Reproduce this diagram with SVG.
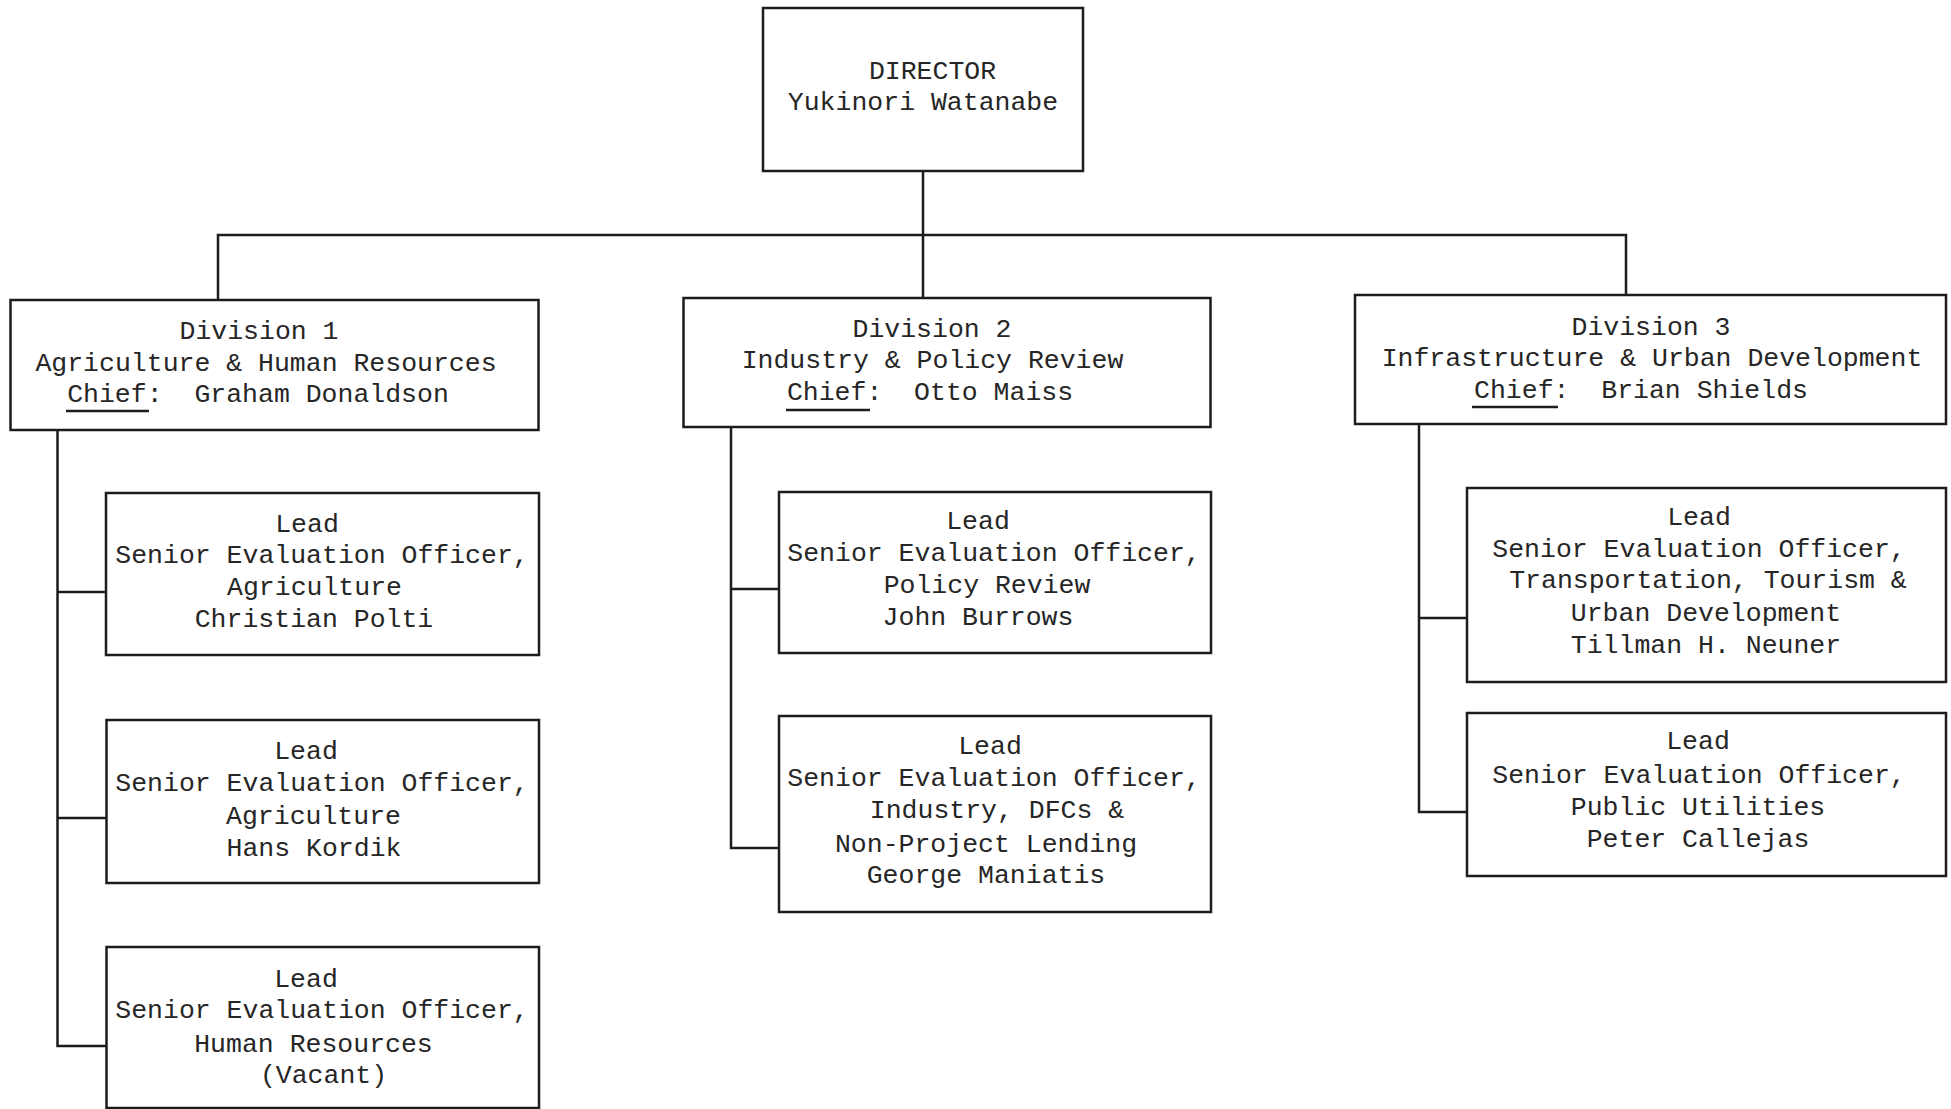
<svg xmlns="http://www.w3.org/2000/svg" width="1951" height="1109" viewBox="0 0 1951 1109">
<style>
.box{fill:none;stroke:#1c1c1c;stroke-width:2.5}
.ln{fill:none;stroke:#1c1c1c;stroke-width:2.5}
text{font-family:"Liberation Mono","DejaVu Sans Mono",monospace;font-size:26.5px;fill:#262626;text-anchor:middle}
</style>
<rect width="1951" height="1109" fill="#ffffff"/>
<g id="connectors">
<path class="ln" d="M923,171 V298"/>
<path class="ln" d="M218,300 V235 H1626 V295"/>
<path class="ln" d="M57.5,430 V1046 H106.5 M57.5,592 H106 M57.5,818 H106.5"/>
<path class="ln" d="M731,427 V848 H779 M731,589 H779"/>
<path class="ln" d="M1419,424 V812 H1467 M1419,618 H1467"/>
</g>
<g id="director">
<rect class="box" x="763" y="8" width="320" height="163"/>
<text x="932.5" y="79">DIRECTOR</text>
<text x="923" y="110">Yukinori Watanabe</text>
</g>
<g id="division1">
<rect class="box" x="10.5" y="300" width="528" height="130"/>
<text x="259" y="339">Division 1</text>
<text x="266" y="371">Agriculture &amp; Human Resources</text>
<text x="258" y="402" xml:space="preserve">Chief:  Graham Donaldson</text>
<path class="ln" d="M66,411 H149"/>
</g>
<g id="division2">
<rect class="box" x="683.5" y="298" width="527" height="129"/>
<text x="932" y="337">Division 2</text>
<text x="932.5" y="368">Industry &amp; Policy Review</text>
<text x="930" y="400" xml:space="preserve">Chief:  Otto Maiss</text>
<path class="ln" d="M786,410 H870"/>
</g>
<g id="division3">
<rect class="box" x="1355" y="295" width="591" height="129"/>
<text x="1651" y="335">Division 3</text>
<text x="1652" y="366">Infrastructure &amp; Urban Development</text>
<text x="1641" y="398" xml:space="preserve">Chief:  Brian Shields</text>
<path class="ln" d="M1472,407 H1558"/>
</g>
<g id="seo-agriculture-polti">
<rect class="box" x="106" y="493" width="433" height="162"/>
<text x="307" y="532">Lead</text>
<text x="322" y="563">Senior Evaluation Officer,</text>
<text x="314.5" y="595">Agriculture</text>
<text x="314" y="627">Christian Polti</text>
</g>
<g id="seo-agriculture-kordik">
<rect class="box" x="106.5" y="720" width="432.5" height="163"/>
<text x="306" y="759">Lead</text>
<text x="322" y="791">Senior Evaluation Officer,</text>
<text x="313.5" y="824">Agriculture</text>
<text x="314" y="856">Hans Kordik</text>
</g>
<g id="seo-human-resources">
<rect class="box" x="106.5" y="947" width="432.5" height="161"/>
<text x="306" y="987">Lead</text>
<text x="322" y="1018">Senior Evaluation Officer,</text>
<text x="313.5" y="1052">Human Resources</text>
<text x="323.5" y="1083">(Vacant)</text>
</g>
<g id="seo-policy-review">
<rect class="box" x="779" y="492" width="432" height="161"/>
<text x="978" y="529">Lead</text>
<text x="994" y="561">Senior Evaluation Officer,</text>
<text x="987" y="593">Policy Review</text>
<text x="978" y="625">John Burrows</text>
</g>
<g id="seo-industry">
<rect class="box" x="779" y="716" width="432" height="196"/>
<text x="990" y="754">Lead</text>
<text x="994" y="786">Senior Evaluation Officer,</text>
<text x="997" y="818">Industry, DFCs &amp;</text>
<text x="986" y="852">Non-Project Lending</text>
<text x="986" y="883">George Maniatis</text>
</g>
<g id="seo-transportation">
<rect class="box" x="1467" y="488" width="479" height="194"/>
<text x="1699" y="525">Lead</text>
<text x="1699" y="557">Senior Evaluation Officer,</text>
<text x="1708" y="588">Transportation, Tourism &amp;</text>
<text x="1706" y="621">Urban Development</text>
<text x="1706" y="653">Tillman H. Neuner</text>
</g>
<g id="seo-public-utilities">
<rect class="box" x="1467" y="713" width="479" height="163"/>
<text x="1698" y="749">Lead</text>
<text x="1699" y="783">Senior Evaluation Officer,</text>
<text x="1698" y="815">Public Utilities</text>
<text x="1698" y="847">Peter Callejas</text>
</g>
</svg>
